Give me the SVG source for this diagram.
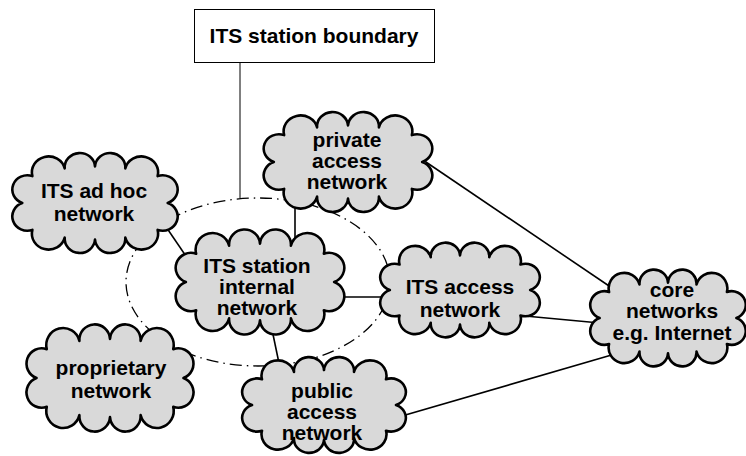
<svg xmlns="http://www.w3.org/2000/svg" xmlns:xlink="http://www.w3.org/1999/xlink" width="746" height="456" viewBox="0 0 746 456">
<style>
.cloud{fill:#d9d9d9;stroke:#000;stroke-width:2.6;stroke-linejoin:round;vector-effect:non-scaling-stroke}
.lbl{font-family:"Liberation Sans",Arial,sans-serif;font-weight:bold;font-size:21px;fill:#000;text-anchor:middle}
.conn{stroke:#000;stroke-width:1.6;fill:none}
.bnd{fill:none;stroke:#000;stroke-width:1.3;stroke-dasharray:12 5 1.5 5}
</style>
<defs>
<path id="cloud" class="cloud" d="M-62,-28 A1,1 0 0 1 -30,-36 A1,1 0 0 1 0,-38 A1,1 0 0 1 30,-36 A1,1 0 0 1 62,-28 A1,1 0 0 1 72,0 A1,1 0 0 1 62,28 A1,1 0 0 1 30,36 A1,1 0 0 1 0,38 A1,1 0 0 1 -30,36 A1,1 0 0 1 -62,28 A1,1 0 0 1 -72,0 A1,1 0 0 1 -62,-28 Z"/>
</defs>
<rect width="746" height="456" fill="#fff"/>
<g id="boundary">
<ellipse class="bnd" cx="258" cy="282" rx="132" ry="84"/>
<line x1="240" y1="63" x2="240" y2="198" stroke="#000" stroke-width="1"/>
<rect x="194.5" y="9.5" width="240" height="53" fill="#fff" stroke="#000" stroke-width="1"/>
<text class="lbl" x="314" y="43">ITS station boundary</text>
</g>
<g id="connectors">
<line class="conn" x1="160" y1="218" x2="190" y2="262"/>
<line class="conn" x1="295" y1="200" x2="295" y2="245"/>
<line class="conn" x1="330" y1="297" x2="395" y2="297"/>
<line class="conn" x1="270" y1="320" x2="280" y2="368"/>
<line class="conn" x1="420" y1="158" x2="615" y2="290"/>
<line class="conn" x1="525" y1="316" x2="600" y2="323"/>
<line class="conn" x1="395" y1="418" x2="615" y2="354"/>
</g>
<g id="adhoc">
<use xlink:href="#cloud" transform="translate(95,203) scale(1.01,0.96)"/>
<text class="lbl" x="94" y="198">ITS ad hoc</text>
<text class="lbl" x="94" y="221">network</text>
</g>
<g id="internal">
<use xlink:href="#cloud" transform="translate(260,282) scale(1.03,1.01)"/>
<text class="lbl" x="257" y="273">ITS station</text>
<text class="lbl" x="257" y="294">internal</text>
<text class="lbl" x="257" y="315">network</text>
</g>
<g id="private">
<use xlink:href="#cloud" transform="translate(348,162) scale(1.03,0.96)"/>
<text class="lbl" x="347" y="147">private</text>
<text class="lbl" x="347" y="168">access</text>
<text class="lbl" x="347" y="189">network</text>
</g>
<g id="itsaccess">
<use xlink:href="#cloud" transform="translate(460,290) scale(0.975,0.91)"/>
<text class="lbl" x="460" y="294">ITS access</text>
<text class="lbl" x="460" y="317">network</text>
</g>
<g id="core">
<use xlink:href="#cloud" transform="translate(668,318) scale(0.95,0.93)"/>
<text class="lbl" x="672" y="297">core</text>
<text class="lbl" x="672" y="318">networks</text>
<text class="lbl" x="672" y="340">e.g. Internet</text>
</g>
<g id="proprietary">
<use xlink:href="#cloud" transform="translate(110,378) scale(1.02,1.03)"/>
<text class="lbl" x="111" y="375">proprietary</text>
<text class="lbl" x="111" y="398">network</text>
</g>
<g id="public">
<use xlink:href="#cloud" transform="translate(324,405) scale(1.0,0.92)"/>
<text class="lbl" x="322" y="398">public</text>
<text class="lbl" x="322" y="419">access</text>
<text class="lbl" x="322" y="440">network</text>
</g>
</svg>
